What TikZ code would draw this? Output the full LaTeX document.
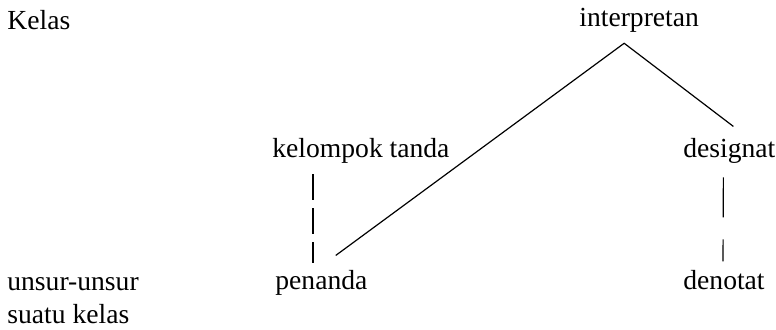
\documentclass[tikz,border=0pt]{standalone}
\usepackage{fontspec}
\setmainfont{Liberation Serif}
\usepackage{tikz}
\usetikzlibrary{positioning}

\begin{document}
\begin{tikzpicture}[
  x=0.5pt, y=0.5pt,
  term/.style={anchor=base west, inner sep=0pt,
    font=\fontsize{13.8}{16.5}\selectfont},
  link/.style={line width=0.6pt},
  dashL/.style={link, dash pattern=on 13pt off 4pt},
  dashR/.style={link, dash pattern=on 20pt off 11pt}
]
\useasboundingbox (0,0) rectangle (776,330);
% Row labels (left column)
\node[term] (kelas) at (7, 300) {Kelas};
\node[term, align=left] (unsur) at (7, 6) {unsur-unsur\\suatu kelas};
% Class level
\node[term] (interp) at (579, 303) {interpretan};
\node[term] (kelompok) at (272, 172) {kelompok tanda};
\node[term] (designat) at (683, 172) {designat};
% Element level
\node[term] (penanda) at (275, 40) {penanda};
\node[term] (denotat) at (683, 40) {denotat};
% Links
\draw[link] ([xshift=-16pt, yshift=7.5pt]penanda.north east)
  -- ([xshift=-7.5pt, yshift=-5pt]interp.south)
  -- ([xshift=2pt, yshift=6pt]designat.north);
\draw[dashL] ([xshift=20.5pt, yshift=-5pt]kelompok.south west)
  -- ([xshift=19pt, yshift=3.5pt]penanda.north west);
\draw[dashR] ([xshift=-3pt, yshift=-6.5pt]designat.south)
  -- ([xshift=-0.5pt, yshift=4.5pt]denotat.north);
\end{tikzpicture}
\end{document}
